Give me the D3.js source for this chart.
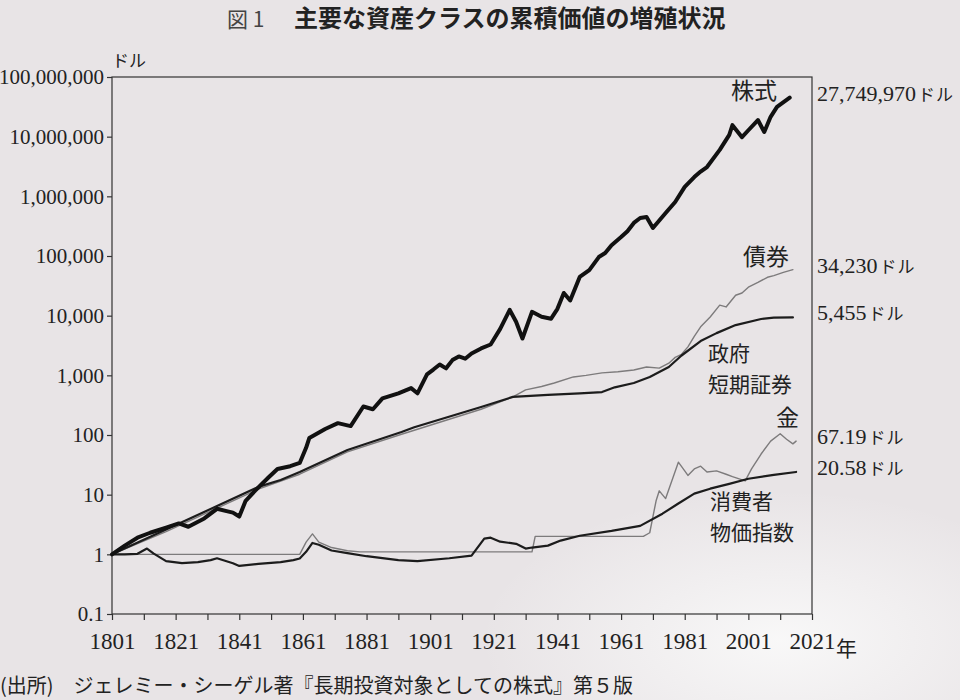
<!DOCTYPE html>
<html>
<head>
<meta charset="utf-8">
<style>
  body { margin: 0; background: #e8e4e6; }
  svg { display: block; }
</style>
</head>
<body>
<svg width="960" height="700"></svg>
<script src="https://d3js.org/d3.v7.min.js"></script>
<script>
// values: [year, dollars]
var stockData = [[1801,1],[1805,1.4],[1809,1.9],[1813,2.3],[1818,2.8],[1822,3.3],[1825,2.9],[1830,4.0],[1834,5.8],
    [1837,5.3],[1839,5.0],[1841,4.3],[1843,7.9],[1846,11.7],[1850,19],[1853,27],[1857,30],[1860,34],[1862,61],
    [1863,89],[1868,126],[1872,158],[1876,141],[1880,300],[1883,270],[1886,410],[1891,500],[1895,610],[1897,500],
    [1900,1040],[1902,1250],[1904,1520],[1906,1310],[1908,1800],[1910,2070],[1912,1900],[1914,2330],[1917,2820],
    [1920,3290],[1923,6000],[1926,12500],[1928,7900],[1930,4140],[1933,11600],[1936,9600],[1939,8900],
    [1941,13000],[1943,24000],[1945,18000],[1948,44500],[1951,58000],[1954,96000],[1956,112000],[1958,152000],
    [1961,208000],[1963,260000],[1965,358000],[1967,433000],[1969,450000],[1971,295000],[1975,525000],
    [1978,805000],[1981,1.44e6],[1984,2.1e6],[1986,2.6e6],[1988,3.1e6],[1992,6.0e6],[1995,10.7e6],
    [1996,15.6e6],[1999,9.8e6],[2001,12.8e6],[2004,19e6],[2006,12e6],[2008,21.5e6],[2010,31.5e6],[2014,45e6]];
var bondData = [[1801,1],[1818,2.4],[1847,12.4],[1860,22],[1875,52],[1892,103],[1917,270],[1927,435],
    [1931,570],[1936,650],[1940,745],[1946,940],[1950,1000],[1955,1100],[1960,1150],[1965,1230],[1969,1380],
    [1973,1320],[1976,1600],[1978,2000],[1980,2250],[1982,3000],[1984,4500],[1986,6500],[1989,9500],
    [1992,15000],[1994,14000],[1997,22000],[1999,24000],[2001,30000],[2004,36000],[2007,44000],[2009,47000],
    [2012,53000],[2015,59000]];
var billData = [[1801,1],[1818,2.6],[1847,13.5],[1854,17.6],[1860,24],[1875,56],[1892,112],[1896,135],
    [1917,295],[1927,435],[1938,470],[1948,500],[1955,525],[1959,630],[1965,745],[1970,940],[1976,1380],
    [1980,2150],[1986,3750],[1991,5100],[1997,6950],[2005,8800],[2009,9300],[2015,9350]];
var goldData = [[1801,1],[1860,1],[1862,1.6],[1864,2.2],[1866,1.6],[1870,1.3],[1875,1.15],[1879,1.1],
    [1933,1.1],[1934,2.0],[1968,2.0],[1970,2.3],[1972,7.9],[1973,11.6],[1975,8.6],[1979,35],[1981,25],
    [1982,21],[1984,27],[1986,30],[1988,24],[1991,25],[1994,22],[1996,20],[2000,17],[2002,27],[2005,48],
    [2008,79],[2011,105],[2013,85],[2015,71],[2016,79]];
var cpiData = [[1801,1],[1805,1.0],[1809,1.02],[1812,1.25],[1814,1.04],[1818,0.77],[1823,0.71],[1828,0.74],
    [1832,0.8],[1834,0.86],[1839,0.71],[1841,0.64],[1847,0.69],[1854,0.74],[1858,0.8],[1860,0.85],[1862,1.1],
    [1864,1.55],[1866,1.45],[1870,1.16],[1875,1.05],[1881,0.93],[1891,0.8],[1897,0.77],[1907,0.86],[1914,0.95],
    [1918,1.83],[1920,1.9],[1923,1.63],[1928,1.5],[1931,1.25],[1933,1.3],[1938,1.4],[1942,1.7],[1948,2.05],
    [1958,2.47],[1967,3.0],[1974,4.8],[1979,7.1],[1984,10.4],[1989,12.6],[1995,15.2],[2001,18.5],
    [2009,21.5],[2016,24]];

var seriesNames = ["株式", "債券", "政府短期証券", "金", "消費者物価指数"];
var endValueLabels = ["27,749,970", "34,230", "5,455", "67.19", "20.58"];
var yTickValues = [0.1, 1, 10, 100, 1e3, 1e4, 1e5, 1e6, 1e7, 1e8];
var yTickLabels = ["0.1", "1", "10", "100", "1,000", "10,000", "100,000", "1,000,000", "10,000,000", "100,000,000"];
var xTickYears = d3.range(1801, 2022, 10);
var xLabelYears = d3.range(1801, 2022, 20);

function draw() {
    var serif = "'Liberation Serif', 'DejaVu Serif', serif";
    var jp = "'Noto Sans CJK JP', sans-serif";
    var ink = "#222";

    var svg = d3.select("svg");
    var plotLeft = 112, plotRight = 812, plotTop = 77, plotBottom = 614;

    var x = d3.scaleLinear().domain([1801, 2021]).range([plotLeft, plotRight]);
    var y = d3.scaleLog().domain([0.1, 1e8]).range([plotBottom, plotTop]);

    // lighter patch of paper at the lower right, as in the photo
    var grad = svg.append("defs").append("radialGradient").attr("id", "glare")
        .attr("cx", 0.5).attr("cy", 0.5).attr("r", 0.5);
    grad.append("stop").attr("offset", "0%").attr("stop-color", "#fafafa").attr("stop-opacity", 0.9);
    grad.append("stop").attr("offset", "100%").attr("stop-color", "#fafafa").attr("stop-opacity", 0);
    svg.append("ellipse").attr("cx", 780).attr("cy", 640).attr("rx", 300).attr("ry", 150)
        .attr("fill", "url(#glare)");

    // title (sits at the top edge in the photo)
    svg.append("text").attr("x", 227).attr("y", 27)
        .style("font-family", jp).style("font-size", "21px").style("fill", "#444")
        .text("図 1");
    svg.append("text").attr("x", 294).attr("y", 27)
        .style("font-family", jp).style("font-size", "24px").style("font-weight", "bold").style("fill", ink)
        .text("主要な資産クラスの累積価値の増殖状況");

    // unit
    svg.append("text").attr("x", 112).attr("y", 67)
        .style("font-family", jp).style("font-size", "17px").style("fill", ink)
        .text("ドル");

    // frame
    svg.append("rect").attr("x", plotLeft).attr("y", plotTop)
        .attr("width", plotRight - plotLeft).attr("height", plotBottom - plotTop)
        .attr("fill", "none").attr("stroke", "#333").attr("stroke-width", 1.2);

    // y axis
    var yAxis = svg.append("g").attr("transform", "translate(" + plotLeft + ",0)")
        .call(d3.axisLeft(y).tickValues(yTickValues)
            .tickFormat(function (d, i) { return yTickLabels[i]; })
            .tickSize(5).tickPadding(3));
    yAxis.select(".domain").remove();
    yAxis.selectAll("line").attr("stroke", "#333").attr("stroke-width", 1.2);
    yAxis.selectAll("text").style("font-family", serif).style("font-size", "21px").style("fill", ink);

    // x axis
    var xAxis = svg.append("g").attr("transform", "translate(0," + plotBottom + ")")
        .call(d3.axisBottom(x).tickValues(xTickYears)
            .tickFormat(function (d) { return xLabelYears.indexOf(d) >= 0 ? d : ""; })
            .tickSize(6).tickPadding(13));
    xAxis.select(".domain").remove();
    xAxis.selectAll("line").attr("stroke", "#333").attr("stroke-width", 1.2);
    xAxis.selectAll("text").style("font-family", serif).style("font-size", "23px").style("fill", ink);
    svg.append("text").attr("x", x(2021) + 24).attr("y", plotBottom + 42)
        .style("font-family", jp).style("font-size", "21px").style("fill", ink)
        .text("年");

    // lines
    var line = d3.line()
        .x(function (d) { return x(d[0]); })
        .y(function (d) { return y(d[1]); });

    var series = [
        { data: bondData, color: "#7d7b7c", width: 1.4 },
        { data: goldData, color: "#7d7b7c", width: 1.4 },
        { data: cpiData, color: "#1c1c1c", width: 2.2 },
        { data: billData, color: "#1c1c1c", width: 2.2 },
        { data: stockData, color: "#111", width: 4 }
    ];
    svg.append("g").selectAll("path")
        .data(series)
        .enter()
        .append("path")
        .attr("d", function (d) { return line(d.data); })
        .attr("fill", "none")
        .attr("stroke", function (d) { return d.color; })
        .attr("stroke-width", function (d) { return d.width; })
        .attr("stroke-linejoin", "round")
        .attr("stroke-linecap", "round");

    // series names
    var nameLayout = [
        { lines: [seriesNames[0]], x: 731, y: 99, size: 23 },
        { lines: [seriesNames[1]], x: 743, y: 265, size: 23 },
        { lines: [seriesNames[2].slice(0, 2), seriesNames[2].slice(2)], x: 708, y: 361, size: 21 },
        { lines: [seriesNames[3]], x: 776, y: 426, size: 23 },
        { lines: [seriesNames[4].slice(0, 3), seriesNames[4].slice(3)], x: 710, y: 509, size: 21 }
    ];
    nameLayout.forEach(function (n) {
        var t = svg.append("text").attr("x", n.x).attr("y", n.y)
            .style("font-family", jp).style("font-size", n.size + "px").style("fill", ink);
        n.lines.forEach(function (s, i) {
            t.append("tspan").attr("x", n.x).attr("dy", i === 0 ? 0 : 31).text(s);
        });
    });

    // end values, placed just above the last point of each series
    var endSeries = [stockData, bondData, billData, goldData, cpiData];
    endSeries.forEach(function (data, i) {
        var last = data[data.length - 1];
        var t = svg.append("text").attr("x", plotRight + 5).attr("y", y(last[1]) + 3)
            .style("font-family", serif).style("font-size", "22px").style("fill", ink);
        t.append("tspan").text(endValueLabels[i]);
        t.append("tspan").attr("dx", 2).style("font-family", jp).style("font-size", "17px")
            .style("letter-spacing", "1px").text("ドル");
    });

    // source
    svg.append("text").attr("x", 0).attr("y", 693)
        .style("font-family", jp).style("font-size", "20px").style("fill", ink)
        .text("(出所)　ジェレミー・シーゲル著『長期投資対象としての株式』第５版");
}
draw();
</script>
</body>
</html>
